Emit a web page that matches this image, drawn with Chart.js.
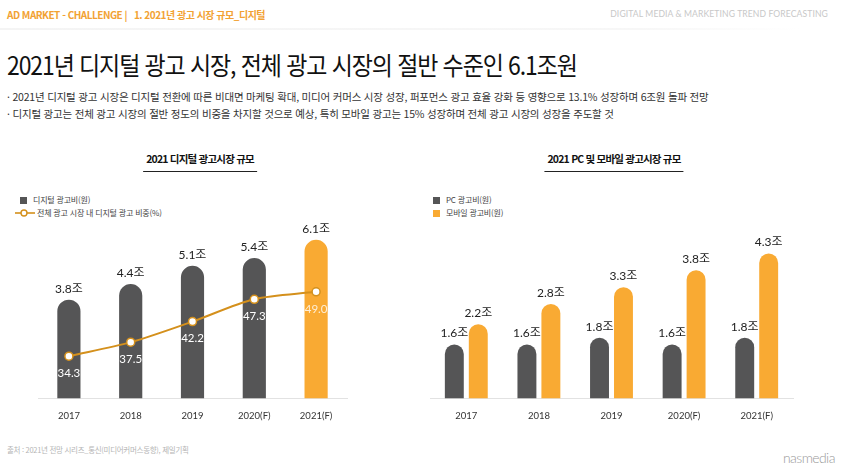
<!DOCTYPE html>
<html lang="ko">
<head>
<meta charset="utf-8">
<script src="https://cdn.jsdelivr.net/npm/chart.js@4"></script>
<style>
  html, body { margin: 0; padding: 0; background: #fff; }
  body { width: 842px; height: 470px; position: relative; overflow: hidden;
         font-family: "Noto Sans CJK KR", Lato, sans-serif; color: #222; }
  .abs { position: absolute; white-space: nowrap; }
  #hdr { left: 7px; top: 7px; font-size: 10px; font-weight: 700; color: #F2A233; letter-spacing: -0.5px; }
  #hdrRight { right: 14px; top: 9px; font-family: Lato, sans-serif; font-size: 8.6px; color: #c8c8c8; letter-spacing: 0.1px; }
  #hdrLine { left: 0; top: 28px; width: 800px; height: 2px;
             background: linear-gradient(to right, #f4f4f4, #f7f7f7 80%, #fff); }
  #title { left: 7px; top: 46px; font-size: 25px; font-weight: 400; color: #111;
           letter-spacing: -1.2px; transform: scaleX(0.92); transform-origin: left top; }
  .bullet { left: 7px; font-size: 10.5px; color: #333; letter-spacing: -0.2px; }
  .ctitle { font-size: 10.5px; font-weight: 700; color: #111; letter-spacing: -0.8px;
            border-bottom: 1.5px solid #222; padding: 0 3px 5px; transform: translateX(-50%); }
  .legend { font-size: 8px; color: #444; letter-spacing: -0.2px; line-height: 13px; }
  .sw { display: inline-block; width: 7px; height: 7px; margin-right: 6px; vertical-align: -0.5px; }
  #footer { left: 7px; top: 444px; font-size: 7.5px; color: #b5b5b5; letter-spacing: -0.3px; }
  #logo { left: 783px; top: 449px; font-family: Lato, sans-serif; font-weight: 300; font-size: 14px; color: #9a9a9a; letter-spacing: -0.6px; }
  canvas { position: absolute; }
</style>
</head>
<body>
<div class="abs" id="hdr">AD MARKET - CHALLENGE&nbsp;|&nbsp;&nbsp; 1. 2021년 광고 시장 규모_디지털</div>
<div class="abs" id="hdrRight">DIGITAL MEDIA &amp; MARKETING TREND FORECASTING</div>
<div class="abs" id="hdrLine"></div>
<div class="abs" id="title">2021년 디지털 광고 시장, 전체 광고 시장의 절반 수준인 6.1조원</div>
<div class="abs bullet" style="top:89px">· 2021년 디지털 광고 시장은 디지털 전환에 따른 비대면 마케팅 확대, 미디어 커머스 시장 성장, 퍼포먼스 광고 효율 강화 등 영향으로 13.1% 성장하며 6조원 돌파 전망</div>
<div class="abs bullet" style="top:106px">· 디지털 광고는 전체 광고 시장의 절반 정도의 비중을 차지할 것으로 예상, 특히 모바일 광고는 15% 성장하며 전체 광고 시장의 성장을 주도할 것</div>

<div class="abs ctitle" style="left:200px; top:151px">2021 디지털 광고시장 규모</div>
<div class="abs ctitle" style="left:614px; top:151px">2021 PC 및 모바일 광고시장 규모</div>

<div class="abs legend" style="left:20px; top:193px">
  <div><span class="sw" style="background:#555556"></span>디지털 광고비(원)</div>
  <div><svg width="20" height="8" style="margin:0 2px 0 -5px; vertical-align:-0.5px"><line x1="0" y1="4" x2="20" y2="4" stroke="#D4901C" stroke-width="1.6"/><circle cx="9" cy="4" r="3" fill="#fff" stroke="#D4901C" stroke-width="1.4"/></svg>전체 광고 시장 내 디지털 광고 비중(%)</div>
</div>
<div class="abs legend" style="left:433px; top:193px">
  <div><span class="sw" style="background:#555556"></span>PC 광고비(원)</div>
  <div><span class="sw" style="background:#F9AA33"></span>모바일 광고비(원)</div>
</div>

<canvas id="digital" width="325" height="219" style="left:30px; top:215px; width:325px; height:219px"></canvas>
<canvas id="device" width="379" height="219" style="left:422px; top:215px; width:379px; height:219px"></canvas>

<div class="abs" id="footer">출처 : 2021년 전망 시리즈_통신(미디어커머스동향), 제일기획</div>
<div class="abs" id="logo">nasmedia</div>

<script>
const YEARS = ["2017", "2018", "2019", "2020(F)", "2021(F)"];
const DIGITAL_SPEND = [3.8, 4.4, 5.1, 5.4, 6.1];      // 조원
const DIGITAL_SHARE = [34.3, 37.5, 42.2, 47.3, 49.0]; // %
const PC_SPEND = [1.6, 1.6, 1.8, 1.6, 1.8];
const MOBILE_SPEND = [2.2, 2.8, 3.3, 3.8, 4.3];

const GRAY = "#555556";
const ORANGE = "#F9AA33";
const LINE_ORANGE = "#D4901C";

// value labels drawn on top of the marks
const valueLabels = {
  id: "valueLabels",
  afterDatasetsDraw(chart) {
    const ctx = chart.ctx;
    ctx.save();
    ctx.textAlign = "center";
    ctx.textBaseline = "middle";
    chart.data.datasets.forEach((ds, i) => {
      const meta = chart.getDatasetMeta(i);
      meta.data.forEach((el, j) => {
        const v = ds.data[j];
        if (ds.type === "line") {
          ctx.font = "11.5px Lato, sans-serif";
          ctx.fillStyle = j === ds.data.length - 1 ? "rgba(255,255,255,0.8)" : "#ffffff";
          ctx.fillText(v.toFixed(1), el.x, el.y + 17);
        } else {
          ctx.font = "12px Lato, 'Noto Sans CJK KR', sans-serif";
          ctx.fillStyle = "#222";
          ctx.fillText(v.toFixed(1) + "조", el.x, el.y - 11);
        }
      });
    });
    ctx.restore();
  }
};

const xAxis = {
  grid: { display: false, drawTicks: false },
  border: { display: true, color: "#e2e2e2", width: 1 },
  ticks: { color: "#333", font: { family: "Lato", size: 9.5 }, padding: 12 }
};

new Chart(document.getElementById("digital"), {
  data: {
    labels: YEARS,
    datasets: [
      {
        type: "line",
        data: DIGITAL_SHARE,
        yAxisID: "y1",
        borderColor: LINE_ORANGE,
        borderWidth: 2,
        tension: 0.3,
        pointRadius: 4,
        pointBorderWidth: 1.5,
        pointBackgroundColor: "#fff",
        pointBorderColor: LINE_ORANGE,
        order: 0
      },
      {
        type: "bar",
        data: DIGITAL_SPEND,
        yAxisID: "y",
        backgroundColor: DIGITAL_SPEND.map((v, i) => i === DIGITAL_SPEND.length - 1 ? ORANGE : GRAY),
        borderRadius: { topLeft: 100, topRight: 100 },
        borderSkipped: "bottom",
        categoryPercentage: 0.375,
        barPercentage: 1,
        order: 1
      }
    ]
  },
  options: {
    responsive: false,
    animation: false,
    layout: { padding: { left: 8, right: 8, top: 5, bottom: 0 } },
    plugins: { legend: { display: false }, tooltip: { enabled: false } },
    scales: {
      x: xAxis,
      y: { display: false, min: 0, max: 6.84 },
      y1: { display: false, min: 24.6, max: 65.3 }
    }
  },
  plugins: [valueLabels]
});

new Chart(document.getElementById("device"), {
  type: "bar",
  data: {
    labels: YEARS,
    datasets: [
      { data: PC_SPEND, backgroundColor: GRAY },
      { data: MOBILE_SPEND, backgroundColor: ORANGE }
    ].map(d => Object.assign(d, {
      borderRadius: { topLeft: 100, topRight: 100 },
      borderSkipped: "bottom",
      categoryPercentage: 0.66,
      barPercentage: 0.79
    }))
  },
  options: {
    responsive: false,
    animation: false,
    layout: { padding: { left: 8, right: 8, top: 5, bottom: 0 } },
    plugins: { legend: { display: false }, tooltip: { enabled: false } },
    scales: {
      x: xAxis,
      y: { display: false, min: 0, max: 5.29 }
    }
  },
  plugins: [valueLabels]
});
</script>
</body>
</html>
